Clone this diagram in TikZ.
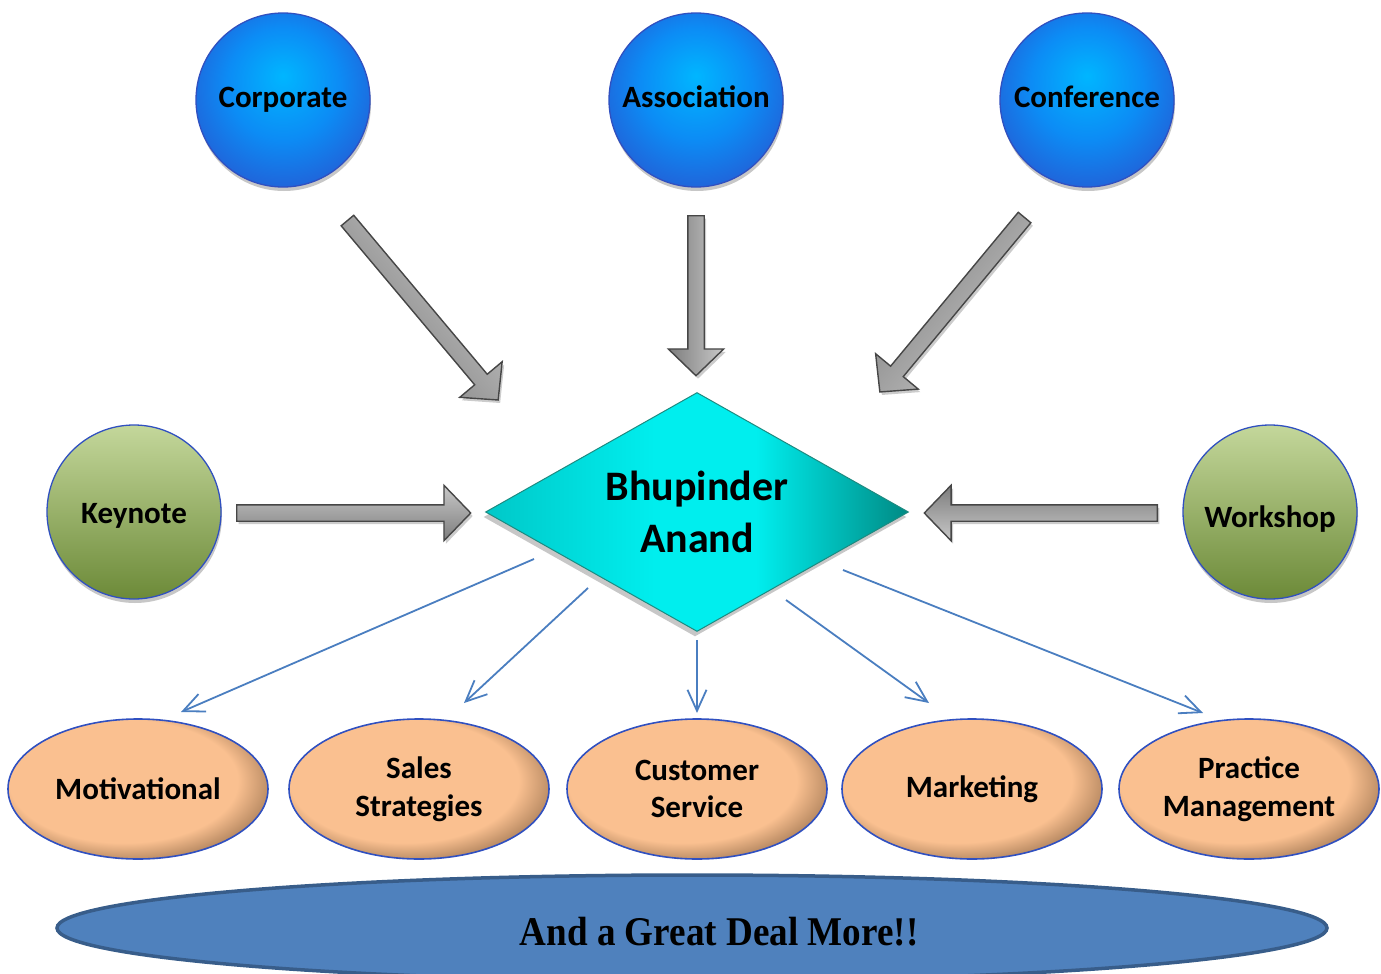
\documentclass[tikz,border=0pt]{standalone}
\usepackage{fontspec}
\setmainfont{Carlito}
\newfontfamily\serifbold{Liberation Serif}
\usetikzlibrary{shapes.geometric,shapes.arrows,shadows,calc,arrows.meta}
\definecolor{bl1}{RGB}{0,182,255}
\definecolor{bl2}{RGB}{12,140,245}
\definecolor{bl3}{RGB}{36,92,212}
\definecolor{blborder}{RGB}{48,80,192}
\definecolor{gr1}{RGB}{196,215,155}
\definecolor{gr2}{RGB}{150,180,95}
\definecolor{gr3}{RGB}{108,138,56}
\definecolor{pe1}{RGB}{250,192,144}
\definecolor{pe2}{RGB}{150,110,75}
\definecolor{d1}{RGB}{0,200,200}
\definecolor{d2}{RGB}{0,238,238}
\definecolor{d3}{RGB}{0,138,132}
\definecolor{dborder}{RGB}{30,138,128}
\definecolor{thinblue}{RGB}{74,126,192}
\definecolor{basefill}{RGB}{79,129,189}
\definecolor{baseborder}{RGB}{56,93,138}
\definecolor{ga1}{RGB}{200,200,200}
\definecolor{ga2}{RGB}{125,125,125}
\definecolor{gaborder}{RGB}{70,70,70}
\pgfdeclareradialshading{blueball}{\pgfpoint{0bp}{7bp}}{color(0bp)=(bl1); color(16bp)=(bl2); color(31bp)=(bl3); color(50bp)=(bl3)}
\pgfdeclareradialshading{peachball}{\pgfpoint{-5bp}{5bp}}{color(0bp)=(pe1); color(22bp)=(pe1); color(31bp)=(pe2); color(50bp)=(pe2)}
\pgfdeclarehorizontalshading{diamshade}{100bp}{color(0bp)=(d1); color(25bp)=(d1); color(45bp)=(d2); color(57bp)=(d2); color(75bp)=(d3); color(100bp)=(d3)}
\tikzset{
  topcircle/.style={circle, minimum size=174pt, inner sep=0pt, shading=blueball, draw=blborder, line width=1.3pt,
    font=\fontsize{31}{36}\selectfont\bfseries, text height=20pt, text depth=0pt,
    drop shadow={shadow xshift=1pt, shadow yshift=-4pt, opacity=0.22, fill=black}},
  sidecircle/.style={circle, minimum size=174pt, inner sep=0pt, top color=gr1, middle color=gr2, bottom color=gr3, draw=blborder, line width=1.3pt,
    font=\fontsize{31}{36}\selectfont\bfseries, text height=20pt, text depth=0pt,
    drop shadow={shadow xshift=1pt, shadow yshift=-4pt, opacity=0.22, fill=black}},
  topic/.style={ellipse, minimum width=260pt, minimum height=140pt, inner sep=0pt, shading=peachball, draw=blborder, line width=1.6pt,
    align=center, font=\fontsize{31}{38}\selectfont\bfseries},
  center/.style={diamond, minimum width=423pt, minimum height=239pt, aspect=1.77, inner sep=0pt, shading=diamshade, draw=dborder, line width=1pt,
    align=center, font=\fontsize{42}{52}\selectfont\bfseries,
    drop shadow={shadow xshift=-2pt, shadow yshift=-5pt, opacity=0.22, fill=black}},
  barrow/.style={single arrow, inner xsep=0pt, inner ysep=7.5pt, single arrow head extend=19.5pt, single arrow tip angle=92,
    draw=gaborder, line width=1.4pt, top color=ga1, bottom color=ga2, anchor=tail,
    drop shadow={shadow xshift=2pt, shadow yshift=-3pt, opacity=0.2, fill=black}},
  feed/.style={draw=thinblue, line width=1.8pt, -{Straight Barb[length=21pt, width=19pt, line width=1.8pt]}},
}
\newcommand{\blockarrow}[2]{%
  \path let \p1=($(#2)-(#1)$), \n1={veclen(\x1,\y1)-2pt}, \n2={atan2(\y1,\x1)} in
    node[barrow, minimum height=\n1, rotate=\n2, shading angle=\n2] at (#1) {};}
\begin{document}
\begin{tikzpicture}[x=1pt, y=-1pt]
\useasboundingbox (0,0) rectangle (1381,974);
% top circles
\node[topcircle] (corp) at (283,100) {\raisebox{2pt}{Corporate}};
\node[topcircle] (assoc) at (696,100) {\raisebox{2pt}{Association}};
\node[topcircle] (conf) at (1087,100) {\raisebox{2pt}{Conference}};
% side circles
\node[sidecircle] (key) at (134,512) {\raisebox{-1pt}{Keynote}};
\node[sidecircle] (work) at (1270,512) {\raisebox{-5pt}{Workshop}};
% center
\node[center] (ba) at (697,512) {Bhupinder\\Anand};
% topic ellipses
\node[topic] (mot) at (138,789) {Motivational};
\node[topic] (sales) at (419,789) {Sales\\Strategies};
\node[topic] (cust) at (697,789) {\raisebox{-1pt}{Customer}\\Service};
\node[topic] (mark) at (972,789) {Marketing};
\node[topic] (prac) at (1249,789) {Practice\\Management};
% base ellipse
\node[ellipse, minimum width=1270pt, minimum height=106pt, inner sep=0pt, fill=basefill, draw=baseborder, line width=3.5pt] (base) at (692,928) {};
\node[font=\fontsize{40.8}{45}\selectfont\serifbold\bfseries, inner sep=0pt] (more) at (719,932) {\scalebox{0.91}[1]{And a Great Deal More!!}};
% block arrow end points
\coordinate (c1) at (347,220); \coordinate (c2) at (499,401);
\coordinate (a1) at (696,215); \coordinate (a2) at (696,377);
\coordinate (f1) at (1025,217); \coordinate (f2) at (879,393);
\coordinate (k1) at (236,513); \coordinate (k2) at (472,513);
\coordinate (w1) at (1158,513); \coordinate (w2) at (923,513);
\blockarrow{c1}{c2}
\blockarrow{a1}{a2}
\blockarrow{f1}{f2}
\blockarrow{k1}{k2}
\blockarrow{w1}{w2}
% thin arrows
\coordinate (s1) at (534,559); \coordinate (e1) at (181,712);
\coordinate (s2) at (588,588); \coordinate (e2) at (464,703);
\coordinate (s3) at (697,640); \coordinate (e3) at (697,713);
\coordinate (s4) at (786,600); \coordinate (e4) at (929,703);
\coordinate (s5) at (843,570); \coordinate (e5) at (1203,713);
\draw[feed] (s1) -- (e1);
\draw[feed] (s2) -- (e2);
\draw[feed] (s3) -- (e3);
\draw[feed] (s4) -- (e4);
\draw[feed] (s5) -- (e5);
\end{tikzpicture}
\end{document}
